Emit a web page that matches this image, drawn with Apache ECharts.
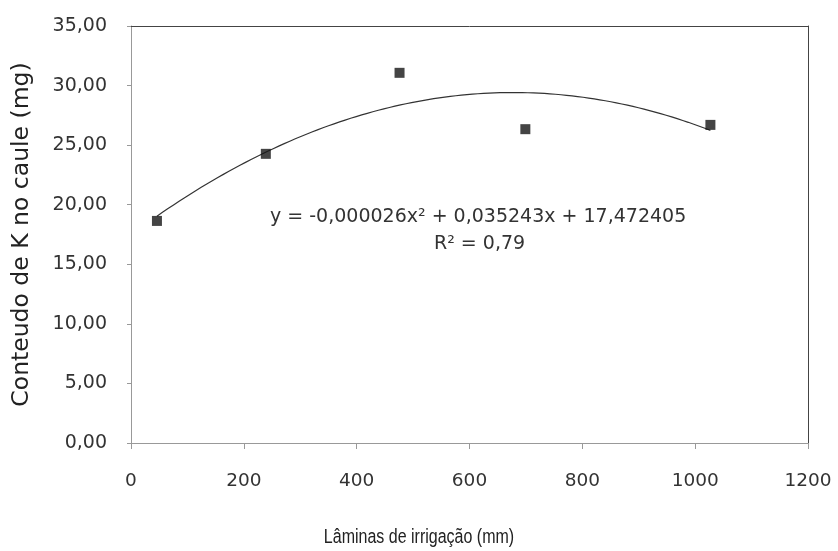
<!DOCTYPE html>
<html>
<head>
<meta charset="utf-8">
<script src="https://cdn.jsdelivr.net/npm/echarts@6/dist/echarts.min.js"></script>
<style>html,body{margin:0;padding:0;background:#fff}#c{width:838px;height:551px}</style>
</head>
<body>
<div id="c"></div>
<script>
// Observed data
const laminas = [46, 239, 476, 699, 1027];
const conteudoK = [18.64, 24.27, 31.07, 26.34, 26.70];
// Trendline coefficients printed on the chart
const coefA = -0.000026, coefB = 0.035243, coefC = 17.472405;
const eqText = 'y = -0,000026x² + 0,035243x + 17,472405';
const r2Text = 'R² = 0,79';
const xTitle = 'Lâminas de irrigação (mm)';
const yTitle = 'Conteudo de K no caule (mg)';
const yTicks = ['0,00','5,00','10,00','15,00','20,00','25,00','30,00','35,00'];
const xTicks = ['0','200','400','600','800','1000','1200'];

const pts = laminas.map((x, i) => [x, conteudoK[i]]);
const trend = [];
const x0 = laminas[0], x1 = laminas[laminas.length - 1];
for (let k = 0; k <= 100; k++) {
  const x = x0 + (x1 - x0) * k / 100;
  trend.push([x, coefA * x * x + coefB * x + coefC]);
}

const font = 'DejaVu Sans, Verdana, sans-serif';
const chart = echarts.init(document.getElementById('c'));
chart.setOption({
  animation: false,
  backgroundColor: '#fff',
  grid: { left: 131, top: 26, width: 677, height: 417, show: false,
    containLabel: false, outerBoundsMode: 'none' },
  xAxis: [{
    type: 'value', min: 0, max: 1200, interval: 200,
    axisLine: { show: true, lineStyle: { color: '#999', width: 1 } },
    axisTick: { show: true, length: 6, lineStyle: { color: '#999' } },
    axisLabel: { fontFamily: font, fontSize: 18.5, color: '#333', margin: 29,
      formatter: v => xTicks[Math.round(v / 200)] },
    splitLine: { show: false }
  }, {
    type: 'value', min: 0, max: 1200, position: 'top',
    axisLine: { show: true, onZero: false, lineStyle: { color: '#444', width: 1 } },
    axisTick: { show: false }, axisLabel: { show: false }, splitLine: { show: false }
  }],
  yAxis: [{
    type: 'value', min: 0, max: 35, interval: 5,
    name: yTitle, nameLocation: 'middle', nameGap: 97,
    nameTextStyle: { fontFamily: font, fontSize: 23.5, color: '#222' },
    axisLine: { show: true, lineStyle: { color: '#999', width: 1 } },
    axisTick: { show: true, length: 4, lineStyle: { color: '#999' } },
    axisLabel: { fontFamily: font, fontSize: 19, color: '#333', margin: 24,
      formatter: v => yTicks[Math.round(v / 5)] },
    splitLine: { show: false }
  }, {
    type: 'value', min: 0, max: 35, position: 'right',
    axisLine: { show: true, onZero: false, lineStyle: { color: '#444', width: 1 } },
    axisTick: { show: false }, axisLabel: { show: false }, splitLine: { show: false }
  }],
  series: [{
    type: 'line', data: trend, showSymbol: false, symbol: 'none',
    lineStyle: { color: '#333', width: 1.2 }, z: 2
  }, {
    type: 'scatter', data: pts, symbol: 'rect', symbolSize: 10,
    itemStyle: { color: '#151515' }, z: 3
  }],
  graphic: [{
    type: 'text', left: 270, top: 208,
    style: { text: eqText, fontFamily: font, fontSize: 19, fill: '#333' }
  }, {
    type: 'text', left: 434, top: 235,
    style: { text: r2Text, fontFamily: font, fontSize: 19, fill: '#333' }
  }, {
    type: 'text', x: 419, y: 537, scaleX: 0.8,
    style: { text: xTitle, fontFamily: 'Liberation Sans, Arial, sans-serif', fontSize: 20,
      fill: '#222', align: 'center', verticalAlign: 'middle' }
  }]
});
</script>
</body>
</html>
